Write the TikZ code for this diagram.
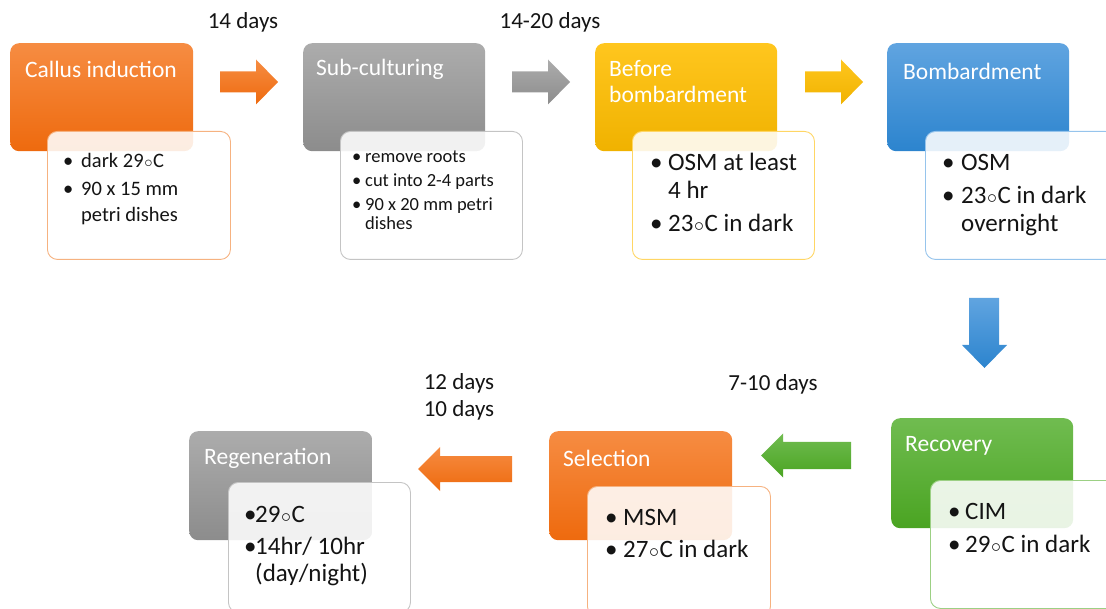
\documentclass[tikz,border=0pt]{standalone}
\usepackage{fontspec}
\setmainfont{Carlito}
\definecolor{orT}{RGB}{246,140,66}
\definecolor{orB}{RGB}{238,106,14}
\definecolor{orL}{RGB}{246,178,128}
\definecolor{grT}{RGB}{172,172,172}
\definecolor{grB}{RGB}{140,140,140}
\definecolor{grL}{RGB}{196,196,196}
\definecolor{yeT}{RGB}{255,198,30}
\definecolor{yeB}{RGB}{240,178,0}
\definecolor{yeL}{RGB}{255,214,100}
\definecolor{blT}{RGB}{96,164,224}
\definecolor{blB}{RGB}{44,132,206}
\definecolor{blL}{RGB}{150,196,236}
\definecolor{gnT}{RGB}{112,188,80}
\definecolor{gnB}{RGB}{74,164,34}
\definecolor{gnL}{RGB}{156,208,132}
\definecolor{txt}{RGB}{20,20,20}
\newlength\bind
\newcommand\bl[1]{\makebox[\bind][l]{\textbullet}#1}
\newcommand\cl[1]{\hspace*{\bind}#1}
\newcommand\dg{\kern0.6pt{\scalebox{0.8}{$\circ$}}\kern0.6pt}
\newcommand\rarrow[6]{% x1 xh x2 yc bodyhalf headhalf
  \path (#1,#4-#5) -- (#2,#4-#5) -- (#2,#4-#6) -- (#3,#4) -- (#2,#4+#6) -- (#2,#4+#5) -- (#1,#4+#5) -- cycle}
\begin{document}
\begin{tikzpicture}[x=1pt,y=-1pt,
  hbox/.style={rounded corners=9pt, draw=none, inner sep=0, anchor=north west},
  dbox/.style={rounded corners=10pt, fill=white, fill opacity=0.88, line width=0.9pt, inner sep=0, anchor=north west},
  title/.style={anchor=west, text=white, font=\fontsize{23.5}{27}\selectfont, inner sep=0, align=left},
  dtext/.style={anchor=north west, inner sep=0, align=left, text=txt},
  big/.style={font=\fontsize{25}{28}\selectfont},
  lab/.style={font=\fontsize{23}{27}\selectfont, text=txt, inner sep=0, align=left}]
\useasboundingbox (0,0) rectangle (1106,609);
% ---------- top row
\node[hbox, top color=orT, bottom color=orB, minimum width=183pt, minimum height=108pt] (ci) at (10,43) {};
\node[title] (cit) at (25,69) {Callus induction};
\node[dbox, draw=orL, minimum width=183pt, minimum height=128pt] (cid) at (47,131) {};
\setlength\bind{18pt}
\node[dtext, font=\fontsize{20.5}{26}\selectfont] (cidt) at (63,153) {\bl{dark 29\dg C}\\[2pt]\bl{90 x 15 mm}\\\cl{petri dishes}};

\node[hbox, top color=grT, bottom color=grB, minimum width=182pt, minimum height=108pt] (sc) at (303,43) {};
\node[title] (sct) at (316,69) {Sub-culturing};
\node[dbox, draw=grL, minimum width=182pt, minimum height=128pt] (scd) at (340,131) {};
\setlength\bind{13pt}
\node[dtext, font=\fontsize{18.5}{19.5}\selectfont] (scdt) at (352,150.5) {\bl{remove roots}\\[4.5pt]\bl{cut into 2-4 parts}\\[4.5pt]\bl{90 x 20 mm petri}\\\cl{dishes}};

\node[hbox, top color=yeT, bottom color=yeB, minimum width=182pt, minimum height=108pt] (bb) at (595,43) {};
\node[title] (bbt) at (609,82) {Before\\[-1pt]bombardment};
\node[dbox, draw=yeL, minimum width=182pt, minimum height=128pt] (bbd) at (632,131) {};
\setlength\bind{18pt}
\node[dtext, big] (bbdt) at (650,152.5) {\bl{OSM at least}\\\cl{4 hr}\\[5pt]\bl{23\dg C in dark}};

\node[hbox, top color=blT, bottom color=blB, minimum width=182pt, minimum height=108pt] (bo) at (887,43) {};
\node[title] (bot) at (903,71) {Bombardment};
\node[dbox, draw=blL, minimum width=190pt, minimum height=128pt] (bod) at (925,131) {};
\setlength\bind{19pt}
\node[dtext, big] (bodt) at (942,154.5) {\bl{OSM}\\[5pt]\bl{23\dg C in dark}\\\cl{overnight}};

% ---------- bottom row
\node[hbox, top color=gnT, bottom color=gnB, minimum width=182pt, minimum height=110pt] (re) at (891,418) {};
\node[title] (ret) at (905,446) {Recovery};
\node[dbox, draw=gnL, minimum width=190pt, minimum height=128pt] (red) at (930,480) {};
\setlength\bind{17pt}
\node[dtext, big] (redt) at (948,503.5) {\bl{CIM}\\[5pt]\bl{29\dg C in dark}};

\node[hbox, top color=orT, bottom color=orB, minimum width=183pt, minimum height=109pt] (se) at (549,431) {};
\node[title] (set) at (563,458) {Selection};
\node[dbox, draw=orL, minimum width=183pt, minimum height=130pt] (sed) at (587,486) {};
\setlength\bind{18pt}
\node[dtext, big] (sedt) at (605,509.5) {\bl{MSM}\\[4pt]\bl{27\dg C in dark}};

\node[hbox, top color=grT, bottom color=grB, minimum width=183pt, minimum height=109pt] (rg) at (189,431) {};
\node[title] (rgt) at (204,458) {Regeneration};
\node[dbox, draw=grL, minimum width=182pt, minimum height=130pt] (rgd) at (228,482) {};
\setlength\bind{11pt}
\node[dtext, big] (rgdt) at (244,506.5) {\bl{29\dg C}\\[4pt]\bl{14hr/ 10hr}\\[-1pt]\cl{(day/night)}};

% ---------- arrows
\rarrow{220}{256}{278}{82}{10.5}{22.5} [top color=orT, bottom color=orB];
\rarrow{512}{548}{570}{82}{10.5}{22.5} [top color=grT, bottom color=grB];
\rarrow{805}{841}{863}{82}{10.5}{22.5} [top color=yeT, bottom color=yeB];
\path[top color=blT, bottom color=blB] (969,298) -- (999,298) -- (999,345) -- (1007,345) -- (984.5,368) -- (962,345) -- (969,345) -- cycle;
\rarrow{851}{783}{761}{455.5}{13.5}{22} [top color=gnT, bottom color=gnB];
\rarrow{512}{440}{418}{469}{13}{22} [top color=orT, bottom color=orB];

% ---------- labels
\node[lab] (l1) at (243,22) {14 days};
\node[lab] (l2) at (550,22) {14-20 days};
\node[lab] (l3) at (773,384) {7-10 days};
\node[lab] (l4) at (459,397) {12 days\\10 days};
\end{tikzpicture}
\end{document}
